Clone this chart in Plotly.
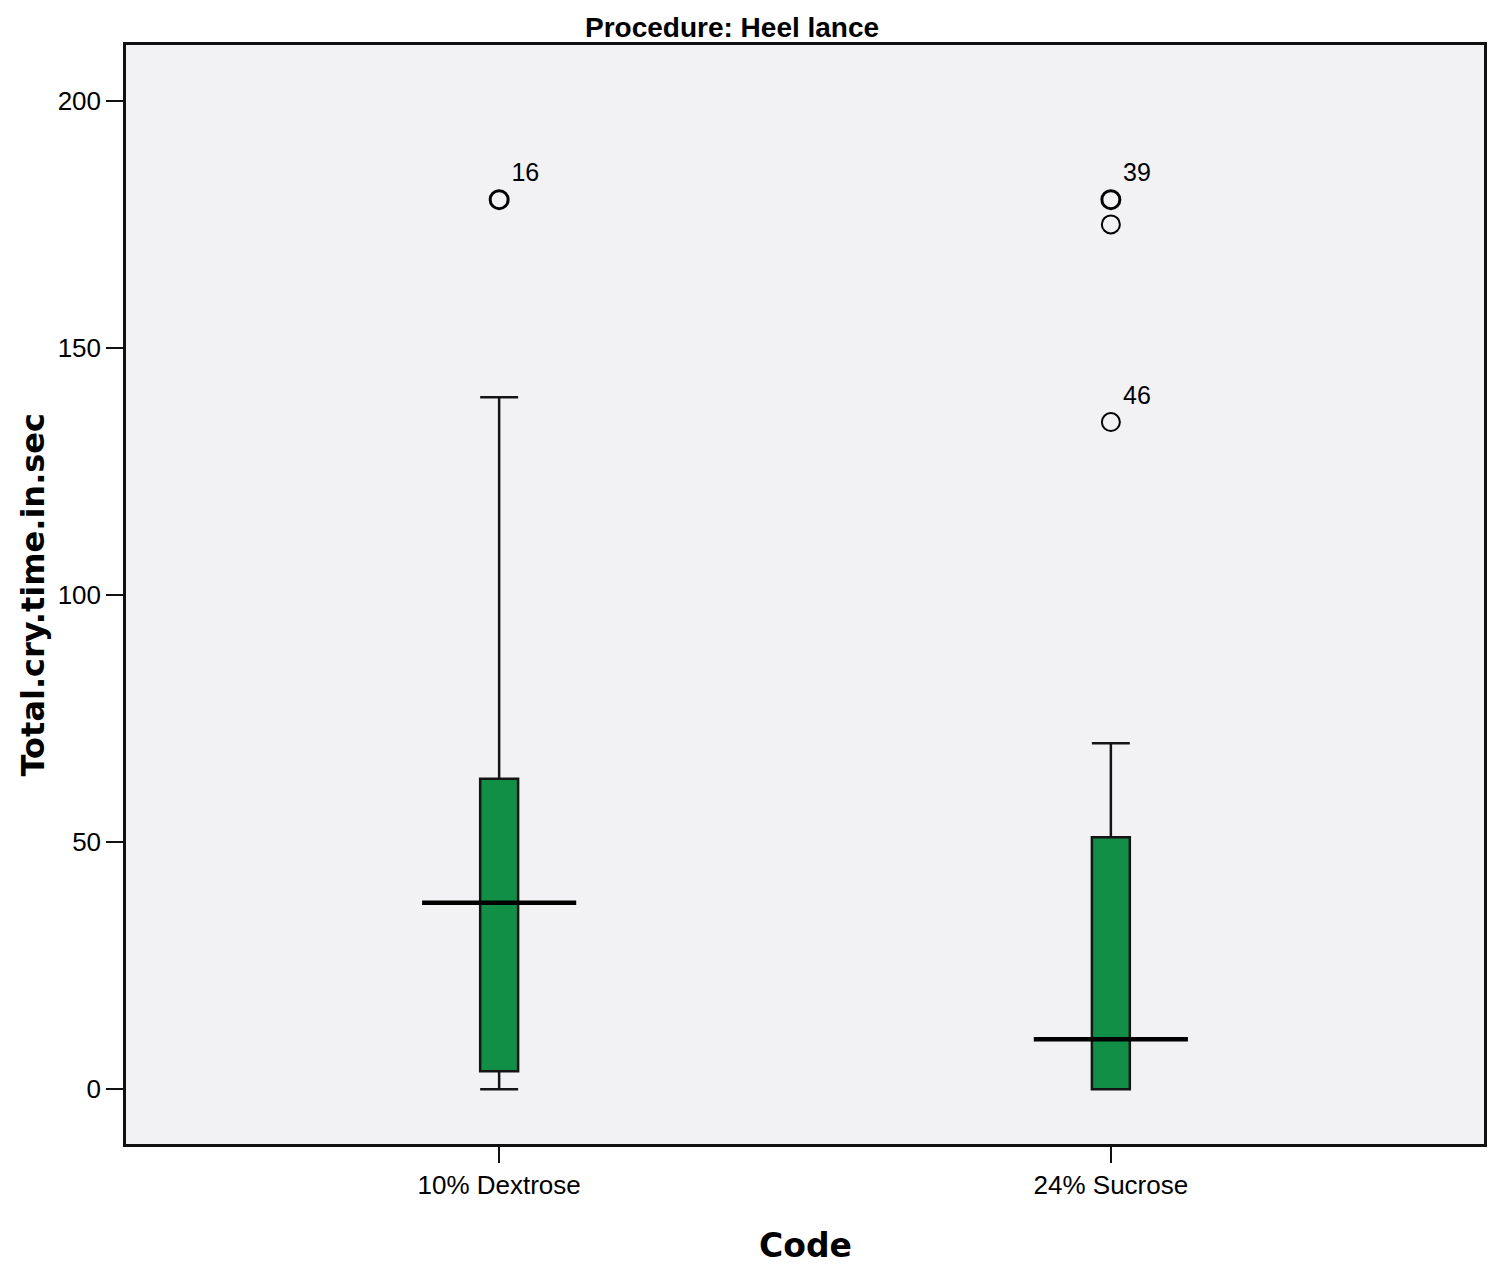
import plotly.graph_objects as go

groups = ['10% Dextrose', '24% Sucrose']
q1 = [3.6, 0.0]
medians = [37.7, 10.1]
q3 = [62.8, 51.0]
lower_fence = [0.0, 0.0]
upper_fence = [140.0, 70.0]

outlier_group = [0, 1, 1, 1]
outlier_values = [180, 180, 175, 135]
outlier_labels = ['16', '39', '', '46']
outlier_weight = [3, 3, 2, 2]  # heavier ring where cases overlap

y_ticks = [0, 50, 100, 150, 200]

FONT = 'Arial, Liberation Sans, sans-serif'
WIDE_BOLD = 'DejaVu Sans, Verdana, sans-serif'
GREEN = '#128F47'
BOX_W = 0.062
MED_HALF = 0.126

fig = go.Figure()

for i, name in enumerate(groups):
    fig.add_trace(go.Box(
        x=[i], q1=[q1[i]], median=[medians[i]], q3=[q3[i]],
        lowerfence=[lower_fence[i]], upperfence=[upper_fence[i]],
        width=BOX_W, whiskerwidth=1, boxpoints=False,
        fillcolor=GREEN, line=dict(color='#151515', width=2.5),
        name=name, showlegend=False, hoverinfo='skip'
    ))
    # SPSS draws the median wider than the box
    fig.add_trace(go.Scatter(
        x=[i - MED_HALF, i + MED_HALF], y=[medians[i], medians[i]],
        mode='lines', line=dict(color='black', width=4.5),
        showlegend=False, hoverinfo='skip'
    ))

fig.add_trace(go.Scatter(
    x=outlier_group, y=outlier_values, mode='markers+text',
    text=outlier_labels, textposition='top right',
    textfont=dict(family=FONT, size=25, color='black'),
    marker=dict(symbol='circle-open', size=18, color='black',
                line=dict(color='black', width=outlier_weight)),
    showlegend=False, hoverinfo='skip'
))

# the page body adds an 8px offset, margins are set to compensate
fig.update_layout(
    width=1500, height=1278,
    margin=dict(l=118, r=24, t=37, b=142),
    paper_bgcolor='white', plot_bgcolor='#F2F2F4',
    font=dict(family=FONT, size=26, color='black'),
    title=dict(text='<b>Procedure: Heel lance</b>', x=0.4827, xanchor='center',
               y=0.9851, yanchor='middle',
               font=dict(family=FONT, size=28, color='black')),
    xaxis=dict(
        range=[-0.61, 1.61], tickvals=[0, 1], ticktext=groups,
        showgrid=False, zeroline=False, showline=True, mirror=True,
        linecolor='#111111', linewidth=2.5, ticks='outside', ticklen=16,
        tickwidth=2, tickcolor='#111111', tickfont=dict(size=26)
    ),
    yaxis=dict(
        range=[-11.1, 211.3], tickvals=y_ticks,
        showgrid=False, zeroline=False, showline=True, mirror=True,
        linecolor='#111111', linewidth=2.5, ticks='outside', ticklen=17,
        tickwidth=2, tickcolor='#111111', tickfont=dict(size=26)
    ),
    annotations=[
        dict(text='<b>Total.cry.time.in.sec</b>', xref='paper', yref='paper',
             x=-0.0685, y=0.5, textangle=-90, showarrow=False,
             xanchor='center', yanchor='middle',
             font=dict(family=WIDE_BOLD, size=32)),
        dict(text='<b>Code</b>', xref='paper', yref='paper',
             x=0.5, y=-0.092, showarrow=False,
             xanchor='center', yanchor='middle',
             font=dict(family=WIDE_BOLD, size=33)),
    ]
)

fig.write_html('out.html')
